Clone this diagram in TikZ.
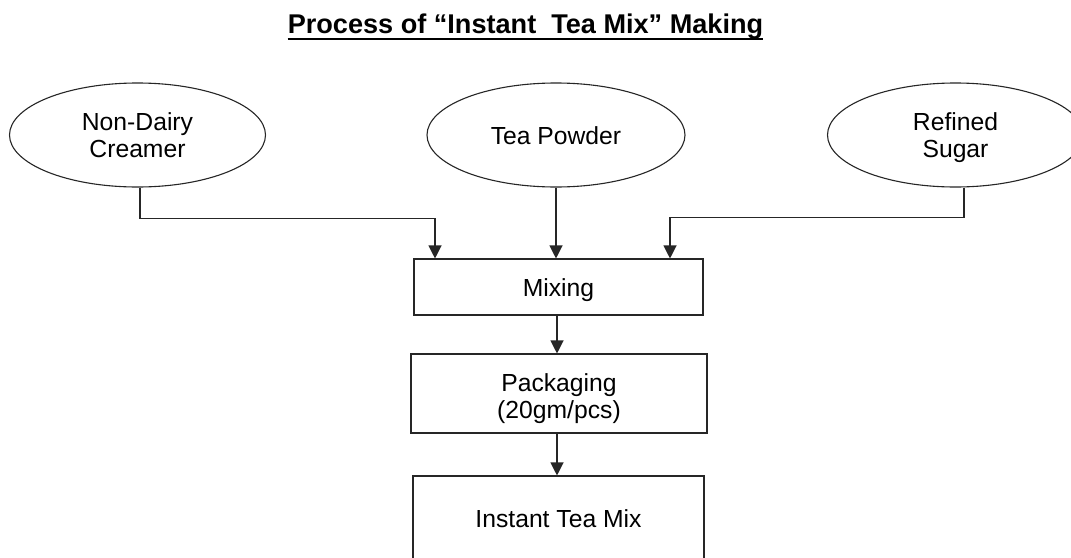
\documentclass[tikz,border=0pt]{standalone}
\usepackage{fontspec}
\setmainfont{Liberation Sans}
\usetikzlibrary{shapes.geometric,arrows.meta}
\begin{document}
\begin{tikzpicture}[x=1pt,y=-1pt,
  every node/.style={font=\fontsize{24.7}{27}\selectfont, align=center, inner sep=0pt},
  one line/.style={text height=24pt, text depth=6pt},
  two lines/.style={text height=#1, text depth=1pt},
  ingredient/.style={ellipse, draw=black!85, line width=1.1pt, minimum width=256pt, minimum height=104pt},
  stepbox/.style={rectangle, draw=black!85, line width=1.1pt},
  flow/.style={draw=black!85, line width=1.2pt, -{Triangle[length=13pt,width=13pt]}}]
  \useasboundingbox[fill=white] (0,0) rectangle (1071,557);

  % heading
  \node[anchor=base, font=\fontsize{27.1}{30}\selectfont\bfseries] (title) at (525.5,33)
    {Process of “Instant\ \ Tea Mix” Making};
  \draw[line width=1.8pt] ([yshift=-6pt]title.base west) -- ([yshift=-6pt]title.base east);

  % ingredients
  \node[ingredient, two lines=45pt] (cream) at (137.5,135) {Non-Dairy\\Creamer};
  \node[ingredient, one line, minimum width=258pt] (tea) at (556,135) {Tea Powder};
  \node[ingredient, two lines=45pt] (sugar) at (955.5,135) {Refined\\Sugar};

  % process steps
  \node[stepbox, one line, minimum width=289pt, minimum height=56pt] (mix) at (558.5,287) {Mixing};
  \node[stepbox, two lines=50pt, minimum width=296pt, minimum height=79pt] (pack) at (559,393.5) {Packaging\\(20gm/pcs)};
  \node[stepbox, one line, minimum width=291pt, minimum height=85pt] (final) at (558.5,518.5) {Instant Tea Mix};

  % connectors
  \draw[flow] ([xshift=2.5pt]cream.south) -- ++(0,31) -| ([xshift=-123.5pt]mix.north);
  \draw[flow] (tea.south) -- (tea.south |- mix.north);
  \draw[flow] ([xshift=8.5pt]sugar.south) -- ++(0,30) -| ([xshift=111.5pt]mix.north);
  \draw[flow] ([xshift=-1.5pt]mix.south) -- ([xshift=-1.5pt]mix.south |- pack.north);
  \draw[flow] ([xshift=-2pt]pack.south) -- ([xshift=-2pt]pack.south |- final.north);
\end{tikzpicture}
\end{document}
